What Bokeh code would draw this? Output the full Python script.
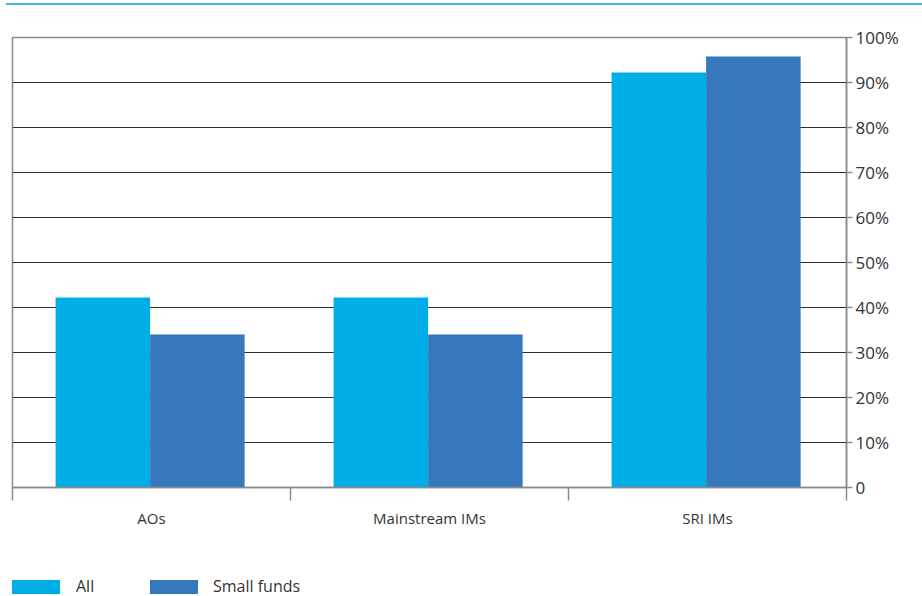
from bokeh.plotting import figure
from bokeh.models import (ColumnDataSource, FixedTicker, LinearAxis, Range1d,
                          Div, InlineStyleSheet)
from bokeh.layouts import column
from bokeh.transform import dodge
from bokeh.embed import file_html
from bokeh.resources import INLINE
import numpy as np

categories = ["AOs", "Mainstream IMs", "SRI IMs"]
all_vals = [42.2, 42.2, 92.2]
small_vals = [34.0, 34.0, 95.8]
y_ticks = [0, 10, 20, 30, 40, 50, 60, 70, 80, 90, 100]
y_tick_labels = ["0", "10%", "20%", "30%", "40%", "50%", "60%", "70%", "80%", "90%", "100%"]
series_names = ["All", "Small funds"]
colors = ["#00ade6", "#3777bc"]

FONT = "Open Sans"
TXT = "#333333"

centers = np.arange(len(categories)) + 0.5
src = ColumnDataSource(dict(x=centers, all=all_vals, small=small_vals))

p = figure(width=922, height=560, output_backend="svg", toolbar_location=None,
           x_range=Range1d(0, len(categories)), y_range=Range1d(0, 100),
           x_axis_location=None, y_axis_location=None,
           min_border_left=12, min_border_top=37, min_border_right=76, min_border_bottom=73)
p.outline_line_color = "#8a8a8a"
p.outline_line_width = 1.5
p.xgrid.visible = False
p.ygrid.ticker = FixedTicker(ticks=y_ticks[1:-1])
p.ygrid.grid_line_color = "#2e2e2e"
p.ygrid.grid_line_width = 1

r1 = p.vbar(x=dodge("x", -0.175, range=p.x_range), top="all", width=0.34, source=src,
            fill_color=colors[0], line_color=None)
r2 = p.vbar(x=dodge("x", 0.165, range=p.x_range), top="small", width=0.34, source=src,
            fill_color=colors[1], line_color=None)

# right y axis
ya = LinearAxis(ticker=FixedTicker(ticks=y_ticks),
                major_label_overrides={t: l for t, l in zip(y_ticks, y_tick_labels)})
ya.axis_line_color = "#8a8a8a"
ya.axis_line_width = 1.5
ya.major_tick_in = 0
ya.major_tick_out = 6
ya.major_tick_line_color = "#8a8a8a"
ya.major_tick_line_width = 1.5
ya.minor_tick_line_color = None
ya.major_label_text_font = FONT
ya.major_label_text_font_size = "17px"
ya.major_label_text_color = TXT
ya.major_label_standoff = 3
p.add_layout(ya, "right")

# bottom x axis: boundary ticks as minor ticks, labels at centers
xa = LinearAxis(ticker=FixedTicker(ticks=list(centers), minor_ticks=list(range(len(categories) + 1))),
                major_label_overrides={float(c): n for c, n in zip(centers, categories)})
xa.axis_line_color = "#8a8a8a"
xa.axis_line_width = 1.5
xa.major_tick_line_color = None
xa.major_tick_in = 0
xa.major_tick_out = 0
xa.minor_tick_in = 0
xa.minor_tick_out = 13
xa.minor_tick_line_color = "#8a8a8a"
xa.minor_tick_line_width = 1.5
xa.major_label_text_font = FONT
xa.major_label_text_font_size = "15px"
xa.major_label_text_color = TXT
xa.major_label_standoff = 7
p.add_layout(xa, "below")

p.stylesheets = [InlineStyleSheet(css=(
    ":host { position: relative; }"
    ":host::before { content: ''; position: absolute; top: 3px; left: 6px; right: 0;"
    " height: 2px; background: #3cb8e6; z-index: 10; }"))]

# legend as HTML row below the plot
patch_left = [12, 150]
label_left = [76, 213]
parts = []
for name, col, pl, ll in zip(series_names, colors, patch_left, label_left):
    parts.append(f'<span style="position:absolute;left:{pl}px;top:20px;width:48px;height:14px;'
                 f'background:{col};"></span>')
    parts.append(f'<span style="position:absolute;left:{ll}px;top:15px;line-height:22px;'
                 f'white-space:nowrap;">{name}</span>')
legend_html = (f'<div style="position:relative;width:922px;height:36px;font-family:\'{FONT}\';'
               f'font-size:16px;color:{TXT};">' + "".join(parts) + '</div>')
legend_div = Div(text=legend_html, width=922, height=36, margin=0)

layout = column(p, legend_div, spacing=0)
open("out.html", "w").write(file_html(layout, INLINE))
